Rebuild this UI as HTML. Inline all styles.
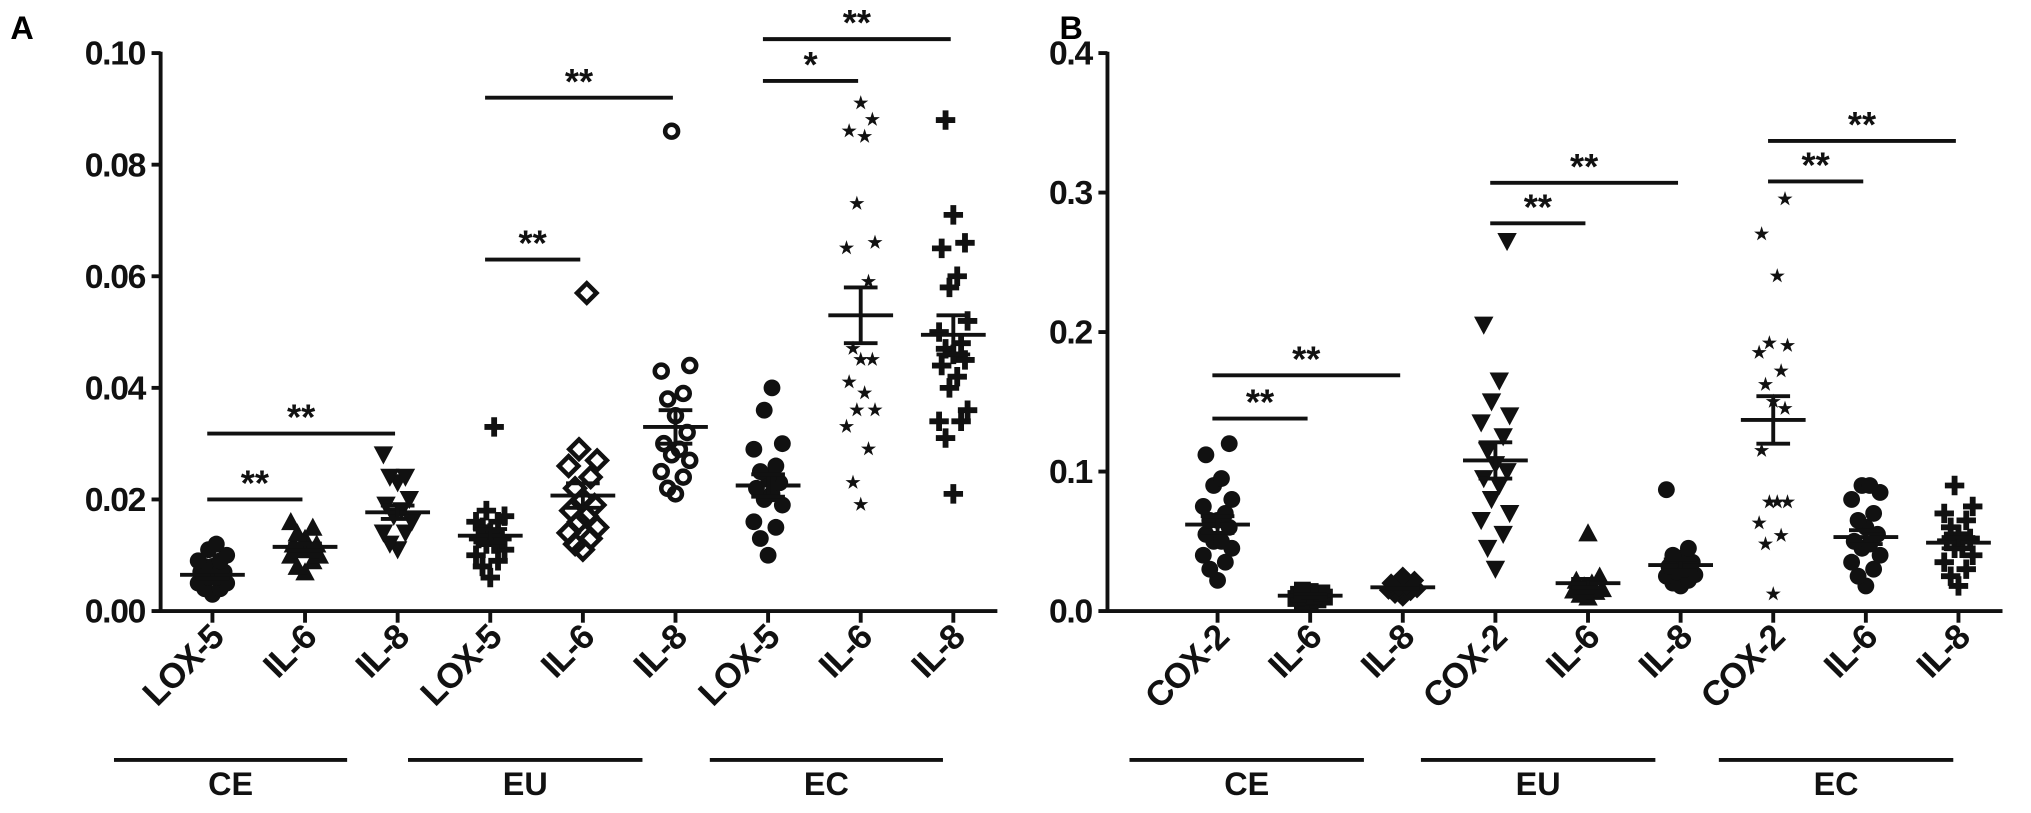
<!DOCTYPE html>
<html><head><meta charset="utf-8"><style>
html,body{margin:0;padding:0;background:#fff;}
svg{display:block;font-family:"Liberation Sans",Arial,sans-serif;font-weight:bold;}
</style></head><body>
<svg id="fig" width="2031" height="813" viewBox="0 0 1568 628" preserveAspectRatio="none" xmlns="http://www.w3.org/2000/svg"></svg>
<script>
// ---- Panel A data ----
const catsA = ["LOX-5","IL-6","IL-8","LOX-5","IL-6","IL-8","LOX-5","IL-6","IL-8"];
const groupsA = ["CE","EU","EC"];
const ticksA = [0,0.02,0.04,0.06,0.08,0.10];
const tickLabelsA = ["0.00","0.02","0.04","0.06","0.08","0.10"];
const markersA = ["circle","triangle","invtri","plus","diamond","ocircle","circle","star","plus"];
const meansA = [0.0065,0.0115,0.0177,0.0135,0.0207,0.033,0.0225,0.053,0.0495];
const semA = [0.0006,0.0006,0.0012,0.0012,0.0022,0.0030,0.0020,0.0050,0.0035];
const pointsA = [
 [0.003,0.004,0.005,0.006,0.006,0.007,0.007,0.008,0.008,0.009,0.010,0.011,0.012,0.005,0.004,0.009],
 [0.007,0.008,0.009,0.010,0.011,0.011,0.012,0.013,0.014,0.015,0.016,0.010,0.012],
 [0.011,0.012,0.014,0.014,0.016,0.017,0.018,0.019,0.020,0.023,0.024,0.024,0.028],
 [0.006,0.008,0.009,0.010,0.011,0.012,0.013,0.013,0.014,0.015,0.016,0.017,0.018,0.033,0.012,0.016],
 [0.011,0.012,0.013,0.014,0.016,0.017,0.018,0.019,0.020,0.022,0.024,0.026,0.027,0.029,0.057,0.015],
 [0.021,0.022,0.024,0.025,0.027,0.028,0.029,0.030,0.032,0.035,0.038,0.039,0.043,0.044,0.086],
 [0.010,0.013,0.015,0.016,0.019,0.020,0.021,0.022,0.023,0.024,0.025,0.026,0.029,0.030,0.036,0.040],
 [0.019,0.023,0.029,0.033,0.036,0.036,0.039,0.041,0.045,0.045,0.047,0.059,0.065,0.066,0.073,0.085,0.086,0.088,0.091],
 [0.021,0.031,0.034,0.034,0.036,0.040,0.042,0.044,0.045,0.046,0.047,0.048,0.050,0.052,0.058,0.060,0.065,0.066,0.071,0.088]
];
const sigA = [[0,1,0.020,"**"],[0,2,0.0318,"**"],[3,4,0.063,"**"],[3,5,0.092,"**"],[6,7,0.095,"*"],[6,8,0.1025,"**"]];

// ---- Panel B data ----
const catsB = ["COX-2","IL-6","IL-8","COX-2","IL-6","IL-8","COX-2","IL-6","IL-8"];
const groupsB = ["CE","EU","EC"];
const ticksB = [0,0.1,0.2,0.3,0.4];
const tickLabelsB = ["0.0","0.1","0.2","0.3","0.4"];
const markersB = ["circle","square","diamondf","invtri","triangle","circle","star","circle","plus"];
const meansB = [0.062,0.011,0.017,0.108,0.020,0.033,0.137,0.053,0.049];
const semB = [0.006,0.001,0.001,0.013,0.003,0.004,0.017,0.005,0.004];
const pointsB = [
 [0.022,0.030,0.035,0.040,0.045,0.050,0.055,0.060,0.065,0.070,0.075,0.080,0.090,0.095,0.112,0.120,0.050,0.065],
 [0.005,0.007,0.008,0.009,0.010,0.011,0.012,0.013,0.014,0.015,0.010],
 [0.010,0.012,0.014,0.015,0.017,0.018,0.020,0.022,0.025,0.016],
 [0.030,0.045,0.055,0.065,0.070,0.080,0.090,0.095,0.100,0.105,0.115,0.125,0.135,0.140,0.150,0.165,0.205,0.265],
 [0.010,0.012,0.014,0.016,0.018,0.020,0.022,0.025,0.056,0.015],
 [0.018,0.020,0.022,0.025,0.028,0.030,0.032,0.035,0.038,0.040,0.045,0.087,0.026],
 [0.012,0.048,0.054,0.063,0.078,0.078,0.078,0.115,0.145,0.150,0.162,0.172,0.185,0.190,0.192,0.240,0.270,0.295],
 [0.018,0.025,0.030,0.035,0.040,0.045,0.050,0.055,0.060,0.065,0.070,0.080,0.085,0.090,0.090,0.048],
 [0.018,0.025,0.030,0.035,0.040,0.045,0.050,0.055,0.060,0.065,0.070,0.075,0.090,0.045,0.052]
];
const sigB = [[0,1,0.138,"**"],[0,2,0.169,"**"],[3,4,0.278,"**"],[3,5,0.307,"**"],[6,7,0.308,"**"],[6,8,0.337,"**"]];

const NS = "http://www.w3.org/2000/svg";
const svg = document.getElementById("fig");
function mk(tag, attrs, parent){ const e=document.createElementNS(NS,tag); for(const k in attrs) e.setAttribute(k,attrs[k]); (parent||svg).appendChild(e); return e; }

function marker(g, type, x, y){
  const r=6.5; let e;
  if(type==="circle") e=mk("circle",{cx:x,cy:y,r:r,fill:"#111"},g);
  else if(type==="ocircle") e=mk("circle",{cx:x,cy:y,r:r-1.5,fill:"none",stroke:"#111","stroke-width":3.5},g);
  else if(type==="triangle") e=mk("polygon",{points:`${x},${y-r-1} ${x-r-1},${y+r} ${x+r+1},${y+r}`,fill:"#111"},g);
  else if(type==="invtri") e=mk("polygon",{points:`${x},${y+r+1} ${x-r-1},${y-r} ${x+r+1},${y-r}`,fill:"#111"},g);
  else if(type==="square") e=mk("rect",{x:x-r,y:y-r,width:2*r,height:2*r,fill:"#111"},g);
  else if(type==="diamond") e=mk("polygon",{points:`${x},${y-r-1} ${x+r+1},${y} ${x},${y+r+1} ${x-r-1},${y}`,fill:"none",stroke:"#111","stroke-width":3.5},g);
  else if(type==="diamondf") e=mk("polygon",{points:`${x},${y-r-1} ${x+r+1},${y} ${x},${y+r+1} ${x-r-1},${y}`,fill:"#111"},g);
  else if(type==="plus") e=mk("path",{d:`M${x-r-1},${y}H${x+r+1}M${x},${y-r-1}V${y+r+1}`,stroke:"#111","stroke-width":4.5},g);
  else if(type==="star") e=mk("text",{x:x,y:y+4,"font-size":13,"text-anchor":"middle",fill:"#111"},g), e.textContent="★";
  
  
}

function panel(cfg){
  const {letter,lx,axX,x0,dx,yTop,yBot,ymax,cats,groups,ticks,tickLabels,markers,means,sem,points,sig,groupSpans} = cfg;
  const g = mk("g",{});
  
  
  const ys = v => yBot - v/ymax*(yBot-yTop);
  const xs = i => x0 + i*dx;
  const lbl = mk("text",{x:lx,y:30,"font-size":25},g); lbl.textContent=letter;
   
  const ya = mk("line",{x1:axX,y1:yTop-1,x2:axX,y2:yBot+1.5,stroke:"#111","stroke-width":3},g);
   
  const xa = mk("line",{x1:axX-1.5,y1:yBot,x2:xs(8)+34,y2:yBot,stroke:"#111","stroke-width":3},g);
   
  ticks.forEach((t,i)=>{
    mk("line",{x1:axX-7,y1:ys(t),x2:axX,y2:ys(t),stroke:"#111","stroke-width":3},g);
    const tl = mk("text",{x:axX-12,y:ys(t)+9,"font-size":26,"letter-spacing":-1,"text-anchor":"end",fill:"#111"},g);
    tl.textContent = tickLabels[i];
     
  });
  cats.forEach((c,i)=>{
    const x=xs(i);
    mk("line",{x1:x,y1:yBot,x2:x,y2:yBot+9,stroke:"#111","stroke-width":3},g);
    const t = mk("text",{x:0,y:0,"font-size":27,"letter-spacing":-1,"text-anchor":"end",fill:"#111",transform:`translate(${x+10},${yBot+22}) rotate(-45)`},g);
    t.textContent=c;
     
    const pg = mk("g",{},g);
     
    const offs=[0,-6,6,-11,11,-3,3,-9,9];
    const sorted = points[i].slice().sort((a,b)=>a-b);
    sorted.forEach((v,j)=>marker(pg,markers[i],x+offs[j%offs.length],ys(v)));
    const m=means[i], s=sem[i];
    mk("line",{x1:x-25,y1:ys(m),x2:x+25,y2:ys(m),stroke:"#111","stroke-width":3},pg);
    mk("line",{x1:x,y1:ys(m+s),x2:x,y2:ys(m-s),stroke:"#111","stroke-width":3},pg);
    mk("line",{x1:x-13,y1:ys(m+s),x2:x+13,y2:ys(m+s),stroke:"#111","stroke-width":3},pg);
    mk("line",{x1:x-13,y1:ys(m-s),x2:x+13,y2:ys(m-s),stroke:"#111","stroke-width":3},pg);
  });
  sig.forEach(([a,b,v,txt])=>{
    const x1=xs(a)-4,x2=xs(b)-2,y=ys(v);
    const l=mk("line",{x1:x1,y1:y,x2:x2,y2:y,stroke:"#111","stroke-width":3},g);
     
    const t=mk("text",{x:(x1+x2)/2,y:y-3,"font-size":28,"text-anchor":"middle",fill:"#111"},g);
    t.textContent=txt;
     
  });
  groups.forEach((gname,k)=>{
    const [a,b]=groupSpans[k];
    const l=mk("line",{x1:a,y1:587,x2:b,y2:587,stroke:"#111","stroke-width":3},g);
     
    const t=mk("text",{x:(a+b)/2,y:614,"font-size":25,"text-anchor":"middle",fill:"#111"},g);
    t.textContent=gname;
     
  });
}

panel({letter:"A",lx:8,axX:124,x0:164,dx:71.5,yTop:41,yBot:472,ymax:0.10,cats:catsA,groups:groupsA,ticks:ticksA,tickLabels:tickLabelsA,markers:markersA,means:meansA,sem:semA,points:pointsA,sig:sigA,groupSpans:[[88,268],[315,496],[548,728]]});
panel({letter:"B",lx:818,axX:855,x0:940,dx:71.5,yTop:41,yBot:472,ymax:0.4,cats:catsB,groups:groupsB,ticks:ticksB,tickLabels:tickLabelsB,markers:markersB,means:meansB,sem:semB,points:pointsB,sig:sigB,groupSpans:[[872,1053],[1097,1278],[1327,1508]]});
</script>
</body></html>
